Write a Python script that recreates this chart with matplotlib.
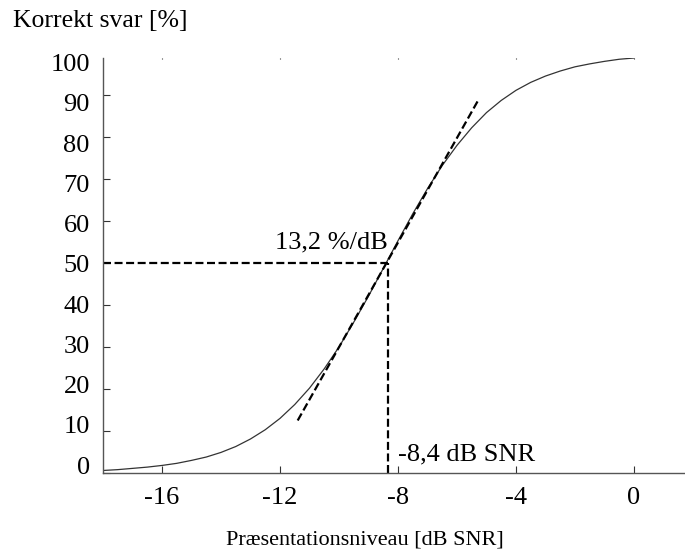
import matplotlib
matplotlib.use("Agg")
import matplotlib.pyplot as plt

plt.rcParams['font.family'] = ['Liberation Serif', 'DejaVu Serif']

# psychometric curve (0.5 dB steps)
snr = [-18, -17.5, -17, -16.5, -16, -15.5, -15, -14.5, -14, -13.5, -13, -12.5,
       -12, -11.5, -11, -10.5, -10, -9.5, -9, -8.5, -8, -7.5, -7, -6.5, -6,
       -5.5, -5, -4.5, -4, -3.5, -3, -2.5, -2, -1.5, -1, -0.5, 0]
correct = [0.6, 0.8, 1.1, 1.4, 1.8, 2.3, 3.0, 3.8, 4.9, 6.3, 8.1, 10.3,
           13.0, 16.3, 20.2, 24.8, 30.0, 35.9, 42.1, 48.7, 55.3, 61.7, 67.7,
           73.2, 78.0, 82.2, 85.8, 88.7, 91.1, 93.0, 94.5, 95.7, 96.7, 97.4,
           98.0, 98.5, 98.8]

# threshold and tangent
srt_x = -8.35
srt_y = 50
tangent_x = [-11.4, -5.3]
tangent_y = [12.5, 88.5]

xticks = [-16, -12, -8, -4, 0]
yticks = [0, 10, 20, 30, 40, 50, 60, 70, 80, 90, 100]

fig = plt.figure(figsize=(6.85, 5.57), dpi=100)
ax = fig.add_axes([103/685, 84/557, 582/685, 415/557])

ax.plot(snr, correct, color='#333333', lw=0.9)

dash = dict(color='black', lw=1.6, dashes=(3.6, 1.6))
ax.plot(tangent_x, tangent_y, **dash)
ax.plot([-18, srt_x], [srt_y, srt_y], **dash)
ax.plot([srt_x, srt_x], [0, srt_y], **dash)

ax.text(srt_x, 54.8, '13,2 %/dB', ha='right', va='center', fontsize=19)
ax.text(-8.0, 4.3, '-8,4 dB SNR', ha='left', va='center', fontsize=19)

ax.set_xlim(-18, 1.73)
ax.set_ylim(0, 98.8)

for s in ['top', 'right']:
    ax.spines[s].set_visible(False)
for s in ['left', 'bottom']:
    ax.spines[s].set_color('#555555')
    ax.spines[s].set_linewidth(1.0)

ax.set_xticks(xticks)
ax.set_xticklabels([str(t) for t in xticks], fontsize=19)
ax.tick_params(axis='x', direction='in', length=5, color='#333333',
               pad=10, top=True)
# top ticks are just tiny dots
for t in ax.xaxis.get_major_ticks():
    t.tick2line.set_markersize(1)

# tick marks at 0..90, labels drawn slightly compressed like the original
ax.set_yticks(yticks[:-1])
ax.set_yticklabels([])
ax.tick_params(axis='y', which='major', direction='in', length=5,
               color='#333333')
ax.set_yticks([1.9 + v * 0.958 for v in yticks], minor=True)
ax.set_yticklabels([str(v) for v in yticks], minor=True, fontsize=19)
ax.tick_params(axis='y', which='minor', length=0, pad=9.5)

fig.text(13/685, 1 - 21/557, 'Korrekt svar [%]', ha='left', va='center',
         fontsize=18.5)
fig.text(365/685, 1 - 540/557, 'Præsentationsniveau [dB SNR]', ha='center',
         va='center', fontsize=16)

fig.savefig('out.png', dpi=100)
